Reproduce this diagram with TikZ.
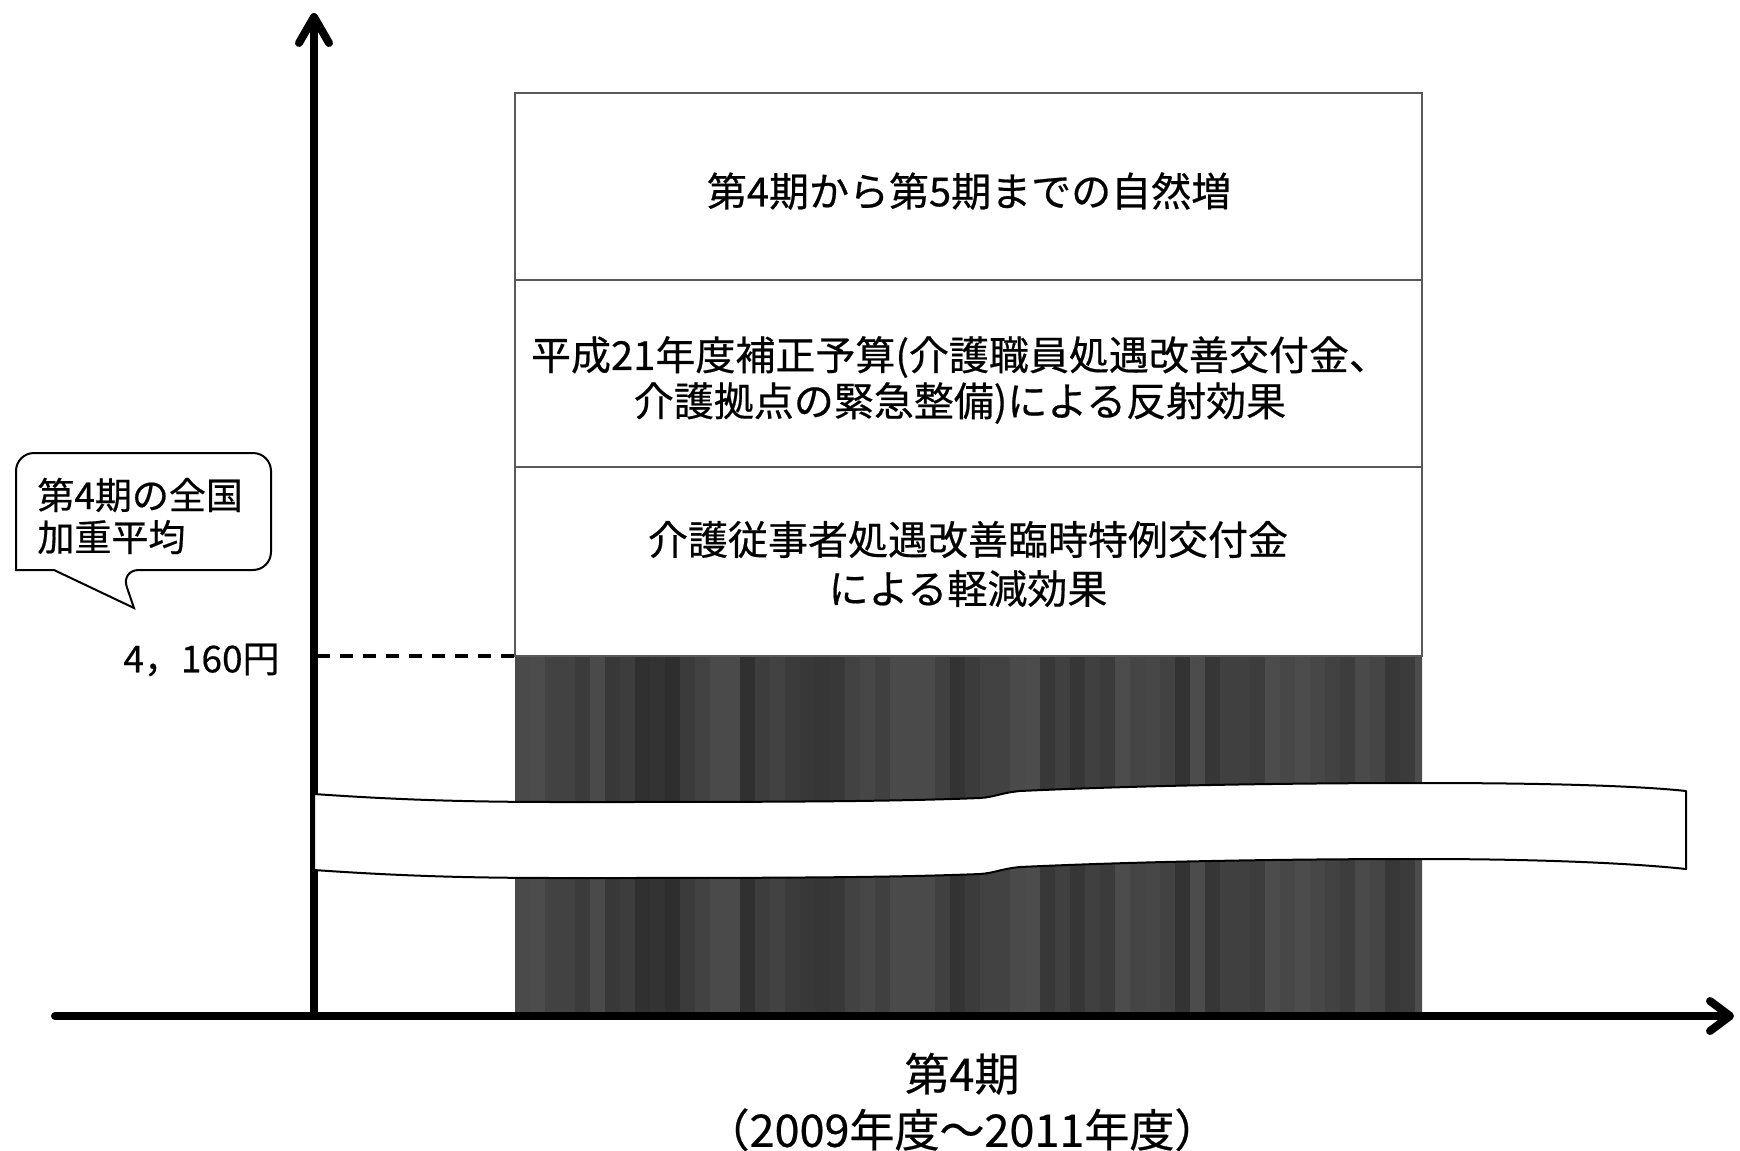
\documentclass[tikz,border=0pt]{standalone}
\usepackage{fontspec}
\setmainfont{Noto Sans CJK JP}[FakeBold=0.5]
\usetikzlibrary{arrows.meta}
\begin{document}
\begin{tikzpicture}[x=0.5pt,y=-0.5pt,
  axisline/.style={line width=4pt, line cap=round},
  ytip/.style={-{Straight Barb[length=13pt,width=15pt,line cap=round,line join=round]}},
  blockline/.style={draw=black!65, line width=0.8pt},
  dashline/.style={line width=1.6pt, dash pattern=on 6.5pt off 5pt},
  ribbon/.style={fill=white, draw=black, line width=1pt, line join=round},
  bubble/.style={fill=white, draw=black, line width=1pt},
  blocktext/.style={font=\fontsize{20}{23}\selectfont, align=center, inner sep=0pt},
  blocktextb/.style={font=\fontsize{20}{24.5}\selectfont, align=center, inner sep=0pt},
  smalltext/.style={font=\fontsize{18.5}{21}\selectfont, align=left, inner sep=0pt},
  bottomtext/.style={font=\fontsize{22.5}{28}\selectfont, align=center, inner sep=0pt}]
\useasboundingbox (0,0) rectangle (1740,1151);

% coordinates
\coordinate (boxTL) at (515,93);
\coordinate (boxBR) at (1422,1012);
\coordinate (div1L) at (515,280);
\coordinate (div1R) at (1422,280);
\coordinate (div2L) at (515,467);
\coordinate (div2R) at (1422,467);
\coordinate (darkTL) at (515,656);
\coordinate (darkTR) at (1422,656);
\coordinate (ybot) at (314,1016);
\coordinate (ytop) at (314,13);
\coordinate (xstart) at (55,1016);
\coordinate (xend) at (1734,1016);
\coordinate (dashstart) at (317,656);

% dark textured region
\begin{scope}
  \clip (darkTL) rectangle (boxBR);
  \fill[black!76] (darkTL) rectangle (boxBR);
  \pgfmathsetseed{11}
  \foreach \i in {0,...,60} {
    \pgfmathsetmacro\s{int(70+random(0,12))}
    \fill[black!\s] (515+\i*15,656) rectangle (530+\i*15,1012);
  }
\end{scope}

% white blocks
\draw[blockline] (boxTL) rectangle (darkTR);
\draw[blockline] (div1L) -- (div1R);
\draw[blockline] (div2L) -- (div2R);

% dashed level line
\draw[dashline] (dashstart) -- (darkTL);

% axes
\draw[axisline, ytip] (ybot) -- (ytop);
\draw[axisline, -{Straight Barb[length=10pt,width=15pt,line cap=round,line join=round]}] (xstart) -- (xend);

% ribbon (wavy break)
\draw[ribbon] (314,794)
  .. controls (400,800) and (470,802) .. (560,802)
  .. controls (750,802) and (880,802) .. (980,798)
  .. controls (995,797) and (1000,793) .. (1020,791)
  .. controls (1150,785) and (1300,783) .. (1422,783)
  .. controls (1550,783) and (1640,786) .. (1686,791)
  -- (1686,869)
  .. controls (1640,864) and (1550,859) .. (1422,859)
  .. controls (1300,859) and (1150,861) .. (1020,867)
  .. controls (1000,869) and (995,873) .. (980,874)
  .. controls (880,878) and (750,878) .. (560,878)
  .. controls (470,878) and (400,876) .. (314,870)
  -- cycle;

% speech bubble
\draw[bubble, rounded corners=9pt] (16,511) -- (16,453) -- (271,453) -- (271,570) -- (121,570)
  [sharp corners] -- (134,608) -- (54,570) -- (16,570) [rounded corners=9pt] -- (16,511) -- cycle;

% texts
\node[blocktext] (t1) at (969,191) {第4期から第5期までの自然増};
\node[blocktext] (t2) at (960,380) {平成21年度補正予算(介護職員処遇改善交付金、\\介護拠点の緊急整備)による反射効果};
\node[blocktextb] (t3) at (968,564) {介護従事者処遇改善臨時特例交付金\\による軽減効果};
\node[smalltext, anchor=west] (bub) at (37,516) {第4期の全国\\加重平均};
\node[font=\fontsize{18.5}{21}\selectfont, inner sep=0pt, anchor=east] (val) at (280,660) {4，160円};
\node[bottomtext] (xl) at (962,1102) {第4期\\（2009年度～2011年度）};
\end{tikzpicture}
\end{document}
